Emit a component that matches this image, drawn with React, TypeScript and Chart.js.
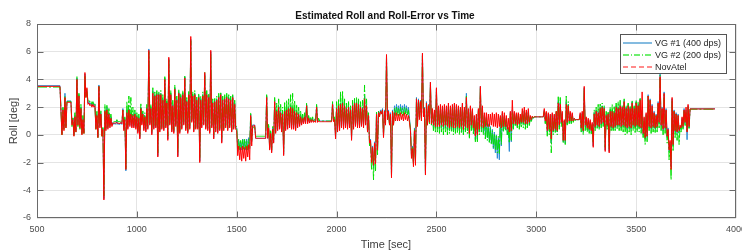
import React, { useEffect, useRef } from 'react';
import { Chart, registerables } from 'chart.js';

Chart.register(...registerables);

// ---- data ----
// Each series is sampled every 5 s from t = 500 s: pairs of (local high, local low) per 10 s.
const startTime = 500; // sec, time of first sample
const sampleStep = 5; // sec between samples

const vg1 = [
  // 500
  3.55, 3.55, 3.55, 3.55, 3.55, 3.55, 3.55, 3.55, 3.55, 3.55, 3.55, 3.55, 3.55, 3.55, 3.55, 3.55, 3.55, 3.55, 3.55, 3.55,
  // 600
  3.55, 3.55, 3.55, 3.55, 1.8, 0.1, 1.9, 0.5, 3.0, 0.6, 2.45, 2.45, 2.45, 2.45, 2.45, 0.8, 1.2, 0.0, 1.4, 0.3,
  // 700
  4.1, 0.8, 2.9, 0.6, 2.0, 0.1, 1.2, 0.2, 4.4, 2.8, 3.2, 2.3, 2.4, 2.2, 2.3, 2.1, 2.3, 2.1, 2.2, 0.5,
  // 800
  1.5, -0.1, 3.6, 0.6, 1.6, 0.0, 0.5, -4.6, 1.8, 0.4, 2.0, 0.5, 1.6, 0.6, 1.3, 0.7, 0.9, 0.75, 0.85, 0.75,
  // 900
  1.0, 0.75, 0.8, 0.75, 0.9, 0.75, 1.9, 0.4, 1.2, -2.6, 1.8, 0.5, 1.9, 0.7, 1.6, 0.6, 1.5, 0.6, 1.6, 0.5,
  // 1000
  1.4, 0.2, 1.3, -0.2, 2.0, 0.8, 1.6, 0.4, 1.4, 0.3, 2.0, 0.5, 6.2, 0.8, 2.0, 0.1, 3.2, 0.5, 2.9, 0.6,
  // 1100
  3.0, -1.5, 3.0, 0.3, 3.0, 0.5, 2.6, 0.4, 4.1, 0.6, 2.4, -0.3, 5.5, 0.8, 3.0, 0.3, 2.2, 0.2, 3.4, 0.7,
  // 1200
  2.6, -1.5, 3.1, 0.2, 2.8, 0.5, 3.0, 0.8, 4.2, 0.4, 2.5, 0.2, 3.0, 0.5, 6.9, 1.0, 2.9, 0.3, 3.0, 0.5,
  // 1300
  2.6, 0.5, 2.8, -1.9, 2.6, 0.6, 2.9, 0.8, 4.4, 0.5, 3.0, 0.4, 2.8, 0.2, 6.0, 0.6, 2.4, -0.2, 2.5, 0.3,
  // 1400
  2.6, 0.2, 2.8, 0.4, 3.0, -0.5, 2.6, 0.4, 2.7, 0.6, 2.8, 0.4, 2.7, 0.6, 2.6, 0.3, 2.8, 0.5, 2.3, 0.5,
  // 1500
  0.5, -0.9, -0.4, -1.0, -0.5, -1.1, -0.3, -1.0, -0.4, -1.1, -0.3, -1.0, -0.2, -1.0, 1.5, -0.5, 0.72, 0.72, 0.7, -0.25,
  // 1600
  -0.25, -0.25, -0.25, -0.25, -0.25, -0.25, -0.25, -0.25, -0.25, -0.25, 2.8, -0.25, 0.6, -1.0, 0.2, -1.2, 0.5, -0.5, 2.5, 0.2,
  // 1700
  1.8, 0.4, 2.1, 0.5, 1.7, 0.3, 1.6, -1.4, 1.8, 0.4, 1.9, 0.5, 2.0, 0.6, 2.1, 0.5, 2.0, 0.5, 1.8, 0.4,
  // 1800
  1.7, 0.6, 1.6, 0.7, 1.4, 0.8, 1.3, 0.9, 1.4, 0.9, 2.2, 0.9, 1.3, 0.9, 1.2, 0.95, 1.2, 0.95, 1.1, 0.95,
  // 1900
  2.1, 0.95, 1.1, 1.0, 1.0, 1.0, 1.0, 1.0, 1.0, 1.0, 1.0, 1.0, 1.0, 1.0, 1.0, 1.0, 2.3, 1.0, 1.2, -0.2,
  // 2000
  2.0, 0.3, 2.2, 0.4, 2.3, 0.6, 2.4, 0.5, 2.2, 0.6, 2.0, 0.5, 2.1, 0.6, 1.9, -0.3, 2.2, 0.5, 2.4, 0.7,
  // 2100
  2.4, 0.6, 2.3, 0.6, 2.1, 0.7, 2.0, 0.6, 2.8, 0.8, 2.2, 0.3, 1.5, -0.5, -0.3, -1.8, -0.8, -2.4, -0.5, -2.0,
  // 2200
  1.6, -1.0, 1.7, 1.4, 1.8, 1.6, 1.9, -0.1, 1.8, 0.8, 5.7, 1.2, 1.8, 0.8, 1.6, -3.0, 1.8, 0.8, 2.1, 1.5,
  // 2300
  2.2, 1.6, 2.1, 1.5, 2.2, 1.6, 2.1, 1.5, 2.2, 1.6, 2.1, 1.5, 2.0, 1.2, 0.5, -1.5, -0.8, -2.0, 0.5, -1.9,
  // 2400
  2.7, 0.8, 2.6, 1.3, 2.5, 1.2, 5.8, 1.5, 2.0, -2.8, 2.4, 0.8, 2.2, 1.0, 3.8, 0.9, 1.8, 0.6, 1.6, 0.5,
  // 2500
  3.3, 0.5, 1.9, 0.4, 2.0, 0.5, 1.9, 0.4, 2.0, 0.5, 1.9, 0.4, 2.1, 0.3, 1.9, 0.4, 2.0, 0.3, 2.2, 0.3,
  // 2600
  2.1, 0.4, 2.0, 0.3, 1.9, 0.4, 2.2, 0.2, 1.8, 0.4, 3.0, 0.3, 1.8, -0.1, 2.0, 0.5, 1.8, 0.3, 1.2, -0.35,
  // 2700
  1.4, -0.3, 1.8, 0.2, 3.5, 0.4, 2.0, 0.2, 1.4, -0.1, 1.3, -0.2, 0.8, -0.5, 0.6, -0.6, 0.4, -1.0, 0.2, -1.3,
  // 2800
  0.0, -1.7, -0.2, -1.8, 1.3, -0.8, 1.6, 0.3, 1.4, 0.4, 1.2, 0.0, 0.5, -1.2, 1.6, -0.5, 1.8, 0.5, 1.6, 0.7,
  // 2900
  1.5, 0.6, 1.4, 0.7, 1.2, 0.8, 1.5, 0.8, 1.7, 0.7, 1.6, 0.7, 1.7, 0.8, 1.3, 1.0, 1.3, 1.2, 1.3, 1.3,
  // 3000
  1.3, 1.3, 1.3, 1.3, 1.3, 1.3, 1.3, 1.3, 1.8, 0.9, 1.6, 0.2, 1.5, 0.3, 1.4, -0.6, 1.5, 0.2, 1.4, 0.3,
  // 3100
  1.6, 0.2, 2.5, 0.6, 2.4, 0.8, 1.6, -0.5, 1.0, -0.6, 2.4, 0.8, 2.2, 0.9, 1.6, 0.9, 1.5, 1.0, 1.2, 1.1,
  // 3200
  1.1, 1.1, 1.1, 1.1, 1.5, 0.4, 1.6, 0.2, 3.4, 0.6, 1.2, 0.4, 1.1, 0.3, 1.0, 0.2, 0.8, -0.8, 1.6, 0.5,
  // 3300
  1.8, 0.6, 1.7, 0.5, 2.0, 0.7, 2.1, 0.8, 2.0, -1.1, 1.5, 0.6, 1.6, -1.2, 1.8, 0.5, 1.8, 0.4, 1.7, 0.5,
  // 3400
  2.1, 0.6, 2.0, 0.6, 2.2, 0.5, 2.0, 0.6, 2.5, 0.5, 2.0, 0.4, 2.2, 0.5, 2.0, 0.4, 2.4, 0.6, 2.0, 0.5,
  // 3500
  2.4, 0.6, 2.2, 0.5, 2.6, 0.4, 1.8, 0.0, 1.2, -0.3, 1.5, -0.2, 2.9, 0.5, 2.6, 0.4, 2.2, 0.5, 1.7, 0.4,
  // 3600
  1.5, 0.5, 2.4, 0.8, 4.4, 0.6, 2.0, 0.3, 3.1, 0.4, 1.9, -0.2, 0.5, -1.2, -0.5, -2.3, 2.6, -0.8, 1.8, 0.2,
  // 3700
  1.6, 0.1, 1.5, 0.2, 0.6, 0.4, 1.2, 0.5, 1.9, 0.8, 1.8, -0.35, 2.1, 0.5, 1.88, 1.88, 1.88, 1.88, 1.88, 1.88,
  // 3800
  1.88, 1.88, 1.88, 1.88, 1.88, 1.88, 1.88, 1.88, 1.88, 1.88, 1.88, 1.88, 1.88, 1.88, 1.88, 1.88, 1.88, 1.88, 1.88, 1.88,
];

const vg2 = [
  // 500
  3.45, 3.45, 3.45, 3.45, 3.45, 3.45, 3.45, 3.45, 3.45, 3.45, 3.45, 3.45, 3.45, 3.45, 3.45, 3.45, 3.45, 3.45, 3.45, 3.45,
  // 600
  3.45, 3.45, 3.45, 3.45, 1.9, 0.0, 2.0, 0.4, 2.8, 0.5, 2.4, 2.4, 2.4, 2.4, 2.4, 0.6, 1.3, -0.1, 1.6, 0.2,
  // 700
  4.2, 0.6, 3.0, 0.4, 2.2, 0.0, 1.4, 0.1, 4.3, 2.7, 3.3, 2.4, 2.5, 2.3, 2.4, 2.2, 2.4, 2.2, 2.3, 0.4,
  // 800
  1.7, -0.2, 3.5, 0.7, 1.8, -0.1, 0.6, -4.4, 2.2, 0.5, 2.2, 0.6, 1.9, 0.7, 1.5, 0.8, 0.95, 0.95, 0.95, 0.95,
  // 900
  1.1, 0.95, 0.95, 0.95, 1.0, 0.9, 1.8, 0.5, 1.3, -2.5, 2.4, 0.7, 2.8, 0.9, 2.7, 0.8, 2.0, 0.7, 1.8, 0.6,
  // 1000
  1.6, 0.3, 1.5, -0.1, 2.3, 0.9, 1.8, 0.5, 1.6, 0.4, 2.2, 0.6, 6.0, 0.9, 2.2, 0.2, 3.4, 0.6, 3.1, 0.7,
  // 1100
  3.2, -1.3, 3.1, 0.4, 3.2, 0.6, 2.9, 0.5, 4.2, 0.7, 2.6, -0.1, 5.4, 0.9, 3.2, 0.4, 2.5, 0.3, 3.6, 0.8,
  // 1200
  2.8, -1.3, 3.3, 0.3, 3.0, 0.6, 3.2, 0.9, 4.3, 0.5, 2.7, 0.3, 3.2, 0.6, 6.8, 1.1, 3.1, 0.4, 3.2, 0.6,
  // 1300
  2.8, 0.6, 3.0, -1.7, 2.8, 0.7, 3.1, 0.9, 4.5, 0.6, 3.2, 0.5, 3.0, 0.3, 5.8, 0.7, 2.6, 0.0, 2.7, 0.4,
  // 1400
  2.8, 0.3, 3.0, 0.5, 3.1, -0.3, 2.8, 0.5, 2.9, 0.7, 3.0, 0.5, 2.9, 0.7, 2.8, 0.4, 2.9, 0.6, 2.5, 0.6,
  // 1500
  0.6, -1.0, -0.3, -1.1, -0.4, -1.0, -0.35, -1.1, -0.3, -1.0, -0.4, -1.1, -0.3, -0.9, 1.6, -0.4, 0.55, 0.55, 0.6, -0.1,
  // 1600
  -0.1, -0.1, -0.1, -0.1, -0.1, -0.1, -0.1, -0.1, -0.1, -0.1, 2.9, -0.1, 0.8, -0.9, 0.3, -1.1, 0.6, -0.4, 2.7, 0.4,
  // 1700
  2.3, 0.6, 2.6, 0.7, 2.2, 0.6, 2.0, -1.2, 2.4, 0.6, 2.5, 0.7, 2.6, 0.8, 2.9, 0.7, 3.0, 0.7, 2.5, 0.6,
  // 1800
  2.2, 0.8, 2.0, 0.8, 1.7, 0.9, 1.5, 1.0, 1.6, 1.0, 2.3, 1.0, 1.4, 1.0, 1.3, 1.0, 1.3, 1.0, 1.2, 1.0,
  // 1900
  2.2, 1.0, 1.2, 1.0, 1.0, 1.0, 1.0, 1.0, 1.0, 1.0, 1.0, 1.0, 1.0, 1.0, 1.0, 1.0, 2.4, 1.0, 1.3, 0.0,
  // 2000
  2.4, 0.5, 2.6, 0.6, 3.1, 0.8, 3.2, 0.7, 2.6, 0.8, 2.3, 0.6, 2.4, 0.7, 2.1, -0.1, 2.5, 0.6, 2.7, 0.8,
  // 2100
  2.7, 0.7, 2.6, 0.7, 2.4, 0.8, 2.5, 0.7, 3.6, 0.9, 2.6, 0.2, 1.6, -0.8, -0.5, -2.5, -1.2, -3.25, -0.8, -2.6,
  // 2200
  1.7, -1.5, 1.7, 1.4, 1.7, 1.5, 1.8, 0.0, 1.7, 0.8, 5.6, 1.1, 1.7, 0.7, 1.5, -2.9, 1.7, 0.7, 1.9, 1.4,
  // 2300
  2.0, 1.4, 1.9, 1.4, 2.0, 1.5, 1.9, 1.4, 2.0, 1.5, 1.9, 1.4, 1.8, 1.0, 0.4, -1.4, -0.9, -2.1, 0.4, -2.0,
  // 2400
  2.6, 0.7, 2.5, 1.2, 2.4, 1.1, 5.7, 1.4, 1.9, -2.6, 2.3, 0.7, 2.1, 0.8, 3.6, 0.7, 1.7, 0.3, 1.5, 0.2,
  // 2500
  3.1, 0.2, 1.8, 0.1, 1.9, 0.2, 1.8, 0.0, 1.9, 0.2, 1.8, 0.0, 2.0, 0.1, 1.8, 0.2, 1.9, 0.0, 2.1, 0.1,
  // 2600
  2.0, 0.1, 1.9, 0.0, 1.8, 0.1, 2.1, 0.0, 1.7, 0.2, 2.8, 0.1, 1.7, -0.3, 1.9, 0.3, 1.7, 0.0, 1.1, -0.5,
  // 2700
  1.3, -0.5, 1.7, 0.0, 3.4, 0.2, 1.9, 0.0, 1.3, -0.3, 1.2, -0.4, 0.7, -0.6, 0.5, -0.7, 0.3, -0.9, 0.1, -1.1,
  // 2800
  0.0, -1.3, -0.1, -1.4, 1.2, -0.7, 1.5, 0.2, 1.3, 0.3, 1.1, 0.0, 0.6, -0.6, 1.5, -0.4, 1.6, 0.4, 1.5, 0.6,
  // 2900
  1.4, 0.5, 1.5, 0.4, 1.3, 0.5, 1.7, 0.5, 1.8, 0.4, 1.6, 0.5, 1.6, 0.6, 1.3, 0.9, 1.3, 1.2, 1.3, 1.3,
  // 3000
  1.3, 1.3, 1.3, 1.3, 1.3, 1.3, 1.3, 1.3, 1.7, 0.8, 1.6, -0.1, 1.4, 0.0, 1.3, -1.3, 1.4, 0.0, 1.3, 0.1,
  // 3100
  1.7, 0.0, 2.75, 0.4, 2.7, 0.6, 1.5, -0.6, 1.0, -0.7, 2.8, 0.7, 2.4, 0.8, 1.5, 0.8, 1.4, 0.9, 1.2, 1.0,
  // 3200
  1.1, 1.1, 1.1, 1.1, 1.4, 0.2, 1.5, 0.0, 3.3, 0.3, 1.2, 0.2, 1.0, 0.1, 0.9, 0.0, 0.7, -0.6, 1.8, 0.3,
  // 3300
  2.0, 0.4, 2.2, 0.4, 2.3, 0.5, 2.3, 0.6, 2.1, -0.9, 1.7, 0.4, 1.7, -1.0, 2.0, 0.3, 2.2, 0.3, 2.1, 0.3,
  // 3400
  2.3, 0.4, 2.4, 0.3, 2.5, 0.3, 2.1, 0.2, 2.6, 0.0, 2.1, 0.1, 2.3, 0.2, 2.1, 0.0, 2.5, 0.3, 2.1, 0.1,
  // 3500
  2.5, 0.2, 2.4, 0.2, 2.7, 0.1, 1.7, -0.2, 1.0, -0.7, 1.4, -0.5, 2.8, 0.3, 2.5, 0.1, 2.0, 0.2, 1.6, 0.1,
  // 3600
  1.4, 0.2, 2.3, 0.5, 4.3, 0.3, 1.9, 0.0, 2.9, 0.1, 1.8, -0.6, 0.4, -1.8, -0.7, -3.25, 2.5, -1.2, 1.7, -0.2,
  // 3700
  1.5, -0.4, 1.4, -0.7, 0.6, 0.2, 1.1, 0.4, 1.8, 0.6, 1.7, 0.2, 2.0, 0.4, 1.85, 1.85, 1.85, 1.85, 1.85, 1.85,
  // 3800
  1.85, 1.85, 1.85, 1.85, 1.85, 1.85, 1.85, 1.85, 1.85, 1.85, 1.85, 1.85, 1.85, 1.85, 1.85, 1.85, 1.85, 1.85, 1.85, 1.85,
];

const novatel = [
  // 500
  3.5, 3.5, 3.5, 3.5, 3.5, 3.5, 3.5, 3.5, 3.5, 3.5, 3.5, 3.5, 3.5, 3.5, 3.5, 3.5, 3.5, 3.5, 3.5, 3.5,
  // 600
  3.5, 3.5, 3.5, 3.5, 1.7, 0.0, 1.8, 0.3, 2.7, 0.5, 2.35, 2.35, 2.35, 2.35, 2.35, 0.7, 1.1, -0.1, 1.3, 0.2,
  // 700
  4.0, 0.7, 2.8, 0.5, 1.9, 0.0, 1.1, 0.1, 4.5, 2.7, 3.4, 2.2, 2.3, 2.1, 2.2, 2.0, 2.2, 2.0, 2.1, 0.4,
  // 800
  1.4, -0.2, 3.5, 0.5, 1.5, -0.1, 0.4, -4.7, 1.7, 0.3, 1.8, 0.4, 1.5, 0.5, 1.2, 0.6, 0.85, 0.85, 0.85, 0.85,
  // 900
  0.9, 0.8, 0.85, 0.8, 0.9, 0.8, 1.8, 0.3, 1.1, -2.5, 1.6, 0.4, 1.8, 0.6, 1.5, 0.5, 1.4, 0.5, 1.5, 0.4,
  // 1000
  1.3, 0.1, 1.2, -0.3, 1.9, 0.7, 1.5, 0.3, 1.3, 0.2, 1.9, 0.4, 6.1, 0.7, 1.9, 0.0, 3.0, 0.4, 2.8, 0.5,
  // 1100
  2.9, -1.6, 2.9, 0.2, 2.9, 0.4, 2.5, 0.3, 4.0, 0.5, 2.3, -0.4, 5.6, 0.7, 2.9, 0.2, 2.1, 0.1, 3.3, 0.6,
  // 1200
  2.5, -1.6, 3.0, 0.1, 2.7, 0.4, 2.9, 0.7, 4.1, 0.3, 2.4, 0.1, 2.9, 0.4, 7.1, 0.9, 2.8, 0.2, 2.9, 0.4,
  // 1300
  2.5, 0.4, 2.7, -2.0, 2.5, 0.5, 2.8, 0.7, 4.5, 0.4, 2.9, 0.3, 2.7, 0.1, 6.1, 0.5, 2.3, -0.3, 2.4, 0.2,
  // 1400
  2.5, 0.1, 2.7, 0.3, 2.9, -0.6, 2.5, 0.3, 2.6, 0.5, 2.7, 0.3, 2.6, 0.5, 2.5, 0.2, 2.7, 0.4, 2.2, 0.4,
  // 1500
  0.3, -1.5, -0.8, -1.8, -0.9, -1.9, -0.8, -1.7, -0.9, -1.9, -0.8, -1.6, -0.7, -1.8, 1.4, -0.8, 0.65, 0.65, 0.7, -0.25,
  // 1600
  -0.25, -0.25, -0.25, -0.25, -0.25, -0.25, -0.25, -0.25, -0.25, -0.25, 2.7, -0.25, 0.5, -1.1, 0.1, -1.3, 0.4, -0.6, 2.4, 0.1,
  // 1700
  1.7, 0.3, 2.0, 0.4, 1.6, 0.2, 1.5, -1.5, 1.7, 0.3, 1.8, 0.4, 1.9, 0.5, 2.0, 0.4, 1.9, 0.4, 1.7, 0.3,
  // 1800
  1.6, 0.5, 1.5, 0.6, 1.3, 0.7, 1.2, 0.8, 1.3, 0.8, 2.1, 0.8, 1.2, 0.85, 1.1, 0.9, 1.1, 0.9, 1.0, 0.9,
  // 1900
  2.0, 0.9, 1.0, 0.95, 0.95, 0.95, 0.95, 0.95, 0.95, 0.95, 0.95, 0.95, 0.95, 0.95, 0.95, 0.95, 2.2, 0.95, 1.1, -0.3,
  // 2000
  1.9, 0.2, 2.1, 0.3, 2.2, 0.5, 2.3, 0.4, 2.1, 0.5, 1.9, 0.4, 2.0, 0.5, 1.8, -0.4, 2.1, 0.4, 2.3, 0.6,
  // 2100
  2.3, 0.5, 2.2, 0.5, 2.0, 0.6, 1.9, 0.5, 2.6, 0.7, 2.1, 0.2, 1.4, -0.6, -0.4, -2.0, -0.9, -2.2, -0.6, -2.1,
  // 2200
  1.5, -1.1, 1.6, 1.3, 1.7, 1.5, 1.8, -0.2, 1.7, 0.7, 5.8, 1.1, 1.7, 0.7, 1.5, -3.1, 1.7, 0.7, 1.6, 1.0,
  // 2300
  1.6, 1.0, 1.5, 1.0, 1.6, 1.1, 1.5, 1.0, 1.6, 1.1, 1.5, 1.0, 1.4, 0.9, 0.3, -1.7, -1.0, -2.3, 0.3, -2.2,
  // 2400
  2.6, 0.6, 2.5, 1.1, 2.4, 1.0, 5.9, 1.3, 1.9, -2.9, 2.3, 0.7, 2.1, 0.9, 3.8, 0.8, 1.9, 0.7, 1.8, 0.6,
  // 2500
  3.4, 0.6, 2.1, 0.6, 2.2, 0.7, 2.1, 0.6, 2.2, 0.7, 2.1, 0.6, 2.3, 0.5, 2.1, 0.6, 2.2, 0.5, 2.3, 0.5,
  // 2600
  2.2, 0.6, 2.1, 0.5, 2.0, 0.6, 2.3, 0.4, 2.0, 0.6, 2.7, 0.5, 1.9, 0.1, 2.1, 0.7, 1.9, 0.5, 1.4, -0.1,
  // 2700
  1.5, 0.0, 1.9, 0.4, 3.5, 0.6, 2.1, 0.5, 1.6, 0.6, 1.6, 0.6, 1.5, 0.6, 1.5, 0.7, 1.6, 0.6, 1.5, 0.6,
  // 2800
  1.6, 0.5, 1.5, 0.6, 1.4, 0.5, 1.7, 0.6, 1.6, 0.6, 1.4, 0.4, 1.2, 0.2, 1.7, 0.3, 2.5, 0.8, 1.7, 0.8,
  // 2900
  1.6, 0.7, 1.6, 0.8, 1.5, 0.9, 1.9, 0.9, 2.0, 0.8, 1.8, 0.8, 1.9, 0.9, 1.4, 1.1, 1.35, 1.25, 1.3, 1.3,
  // 3000
  1.3, 1.3, 1.3, 1.3, 1.3, 1.3, 1.3, 1.3, 1.9, 1.0, 1.7, 0.3, 1.6, 0.4, 1.5, -0.3, 1.6, 0.3, 1.5, 0.4,
  // 3100
  1.7, 0.3, 2.3, 0.7, 2.2, 0.9, 1.7, -0.4, 1.1, -0.4, 2.2, 0.9, 2.1, 1.0, 1.7, 1.0, 1.6, 1.0, 1.2, 1.1,
  // 3200
  1.1, 1.1, 1.1, 1.1, 1.6, 0.5, 1.7, 0.3, 3.5, 0.7, 1.3, 0.5, 1.2, 0.4, 1.1, 0.3, 0.9, -0.9, 1.5, 0.6,
  // 3300
  1.7, 0.7, 1.6, 0.6, 1.9, 0.8, 2.0, 0.9, 1.9, -1.2, 1.4, 0.7, 1.5, -1.3, 1.7, 0.6, 1.7, 0.5, 1.6, 0.6,
  // 3400
  2.0, 0.7, 1.9, 0.7, 2.1, 0.6, 2.0, 0.7, 2.4, 0.6, 1.9, 0.5, 2.1, 0.6, 1.9, 0.5, 2.3, 0.7, 1.9, 0.6,
  // 3500
  2.3, 0.7, 2.1, 0.6, 2.5, 0.5, 3.1, 0.1, 1.3, -0.2, 1.6, -0.1, 2.8, 0.6, 2.5, 0.5, 2.1, 0.6, 1.6, 0.5,
  // 3600
  1.4, 0.6, 2.3, 0.9, 4.2, 0.7, 1.9, 0.4, 3.0, 0.5, 1.8, -0.1, 0.4, -1.1, -0.4, -2.5, 2.7, -0.7, 1.7, 0.3,
  // 3700
  1.5, 0.2, 1.4, 0.3, 0.7, 0.5, 1.3, 0.6, 1.8, 0.9, 2.0, 0.2, 2.2, 0.6, 1.87, 1.87, 1.87, 1.87, 1.87, 1.87,
  // 3800
  1.87, 1.87, 1.87, 1.87, 1.87, 1.87, 1.87, 1.87, 1.87, 1.87, 1.87, 1.87, 1.87, 1.87, 1.87, 1.87, 1.87, 1.87, 1.87, 1.87,
];

const xTickValues = [500, 1000, 1500, 2000, 2500, 3000, 3500, 4000];
const yTickValues = [-6, -4, -2, 0, 2, 4, 6, 8];
const seriesLabels = ['VG #1 (400 dps)', 'VG #2 (200 dps)', 'NovAtel'];
const titleText = 'Estimated Roll and Roll-Error vs Time';
const xAxisTitle = 'Time [sec]';
const yAxisTitle = 'Roll [deg]';

// ---- styles ----
const FONT = "'Liberation Sans', Arial, Helvetica, sans-serif";
const seriesColors = ['#2a8ad4', '#00E000', '#FF0000'];
const legendColors = ['#0072BD', '#00E000', '#FF3030'];
const seriesDashes: number[][] = [[], [10, 2, 2, 2], []];
const legendDashes: number[][] = [[], [6, 2, 1, 2], [5, 3]];

function toPoints(values: number[]) {
  return values.map((v, i) => ({ x: startTime + i * sampleStep, y: v }));
}

const framePlugin = {
  id: 'matlabFrame',
  afterDatasetsDraw(chart: any) {
    const { ctx, chartArea: a, scales } = chart;
    const L = Math.round(a.left) + 0.5;
    const R = Math.round(a.right) - 0.5;
    const T = Math.round(a.top) + 0.5;
    const B = Math.round(a.bottom) - 0.5;
    ctx.save();
    ctx.strokeStyle = '#6a6a6a';
    ctx.lineWidth = 1;
    ctx.setLineDash([]);
    ctx.strokeRect(L, T, R - L, B - T);
    ctx.beginPath();
    xTickValues.forEach((v) => {
      const x = Math.min(R, Math.max(L, Math.round(scales.x.getPixelForValue(v)) + 0.5));
      ctx.moveTo(x, T);
      ctx.lineTo(x, T + 6);
      ctx.moveTo(x, B);
      ctx.lineTo(x, B - 6);
    });
    yTickValues.forEach((v) => {
      const y = Math.min(B, Math.max(T, Math.round(scales.y.getPixelForValue(v)) + 0.5));
      ctx.moveTo(L, y);
      ctx.lineTo(L + 6, y);
      ctx.moveTo(R, y);
      ctx.lineTo(R - 6, y);
    });
    ctx.stroke();
    ctx.restore();
  },
  afterDraw(chart: any) {
    const { ctx } = chart;
    ctx.save();
    // title
    ctx.fillStyle = '#111';
    ctx.font = `bold 10px ${FONT}`;
    ctx.textAlign = 'center';
    ctx.textBaseline = 'alphabetic';
    ctx.fillText(titleText, 385, 18.5);
    // x axis title
    ctx.fillStyle = '#404040';
    ctx.font = `11px ${FONT}`;
    ctx.fillText(xAxisTitle, 386, 247.5);
    // y axis title
    ctx.save();
    ctx.translate(17, 121);
    ctx.rotate(-Math.PI / 2);
    ctx.fillText(yAxisTitle, 0, 0);
    ctx.restore();
    // legend
    const bx = 620.5, by = 34.5, bw = 106, bh = 39;
    ctx.fillStyle = '#ffffff';
    ctx.fillRect(bx, by, bw, bh);
    ctx.strokeStyle = '#555';
    ctx.lineWidth = 1;
    ctx.strokeRect(bx, by, bw, bh);
    ctx.font = `9px ${FONT}`;
    ctx.textAlign = 'left';
    ctx.textBaseline = 'middle';
    seriesLabels.forEach((label, i) => {
      const y = 42.5 + i * 12.2;
      ctx.save();
      ctx.strokeStyle = legendColors[i];
      ctx.globalAlpha = 0.75;
      ctx.lineWidth = 1.3;
      ctx.setLineDash(legendDashes[i]);
      ctx.beginPath();
      ctx.moveTo(623, Math.round(y));
      ctx.lineTo(652, Math.round(y));
      ctx.stroke();
      ctx.restore();
      ctx.fillStyle = '#262626';
      ctx.fillText(label, 655, y + 1);
    });
    ctx.restore();
  },
};

export default function App() {
  const canvasRef = useRef<HTMLCanvasElement | null>(null);

  useEffect(() => {
    document.body.style.margin = '0';
    const canvas = canvasRef.current;
    if (!canvas) return;
    const seriesValues = [vg1, vg2, novatel];
    const chart = new Chart(canvas, {
      type: 'line',
      data: {
        datasets: seriesValues.map((vals, i) => ({
          label: seriesLabels[i],
          data: toPoints(vals),
          borderColor: seriesColors[i],
          borderWidth: 1,
          borderDash: seriesDashes[i],
          pointRadius: 0,
          tension: 0,
          fill: false,
          order: 3 - i,
        })),
      },
      options: {
        responsive: false,
        animation: false,
        devicePixelRatio: 1,
        parsing: false as any,
        layout: { padding: { top: 24, right: 6, left: 0, bottom: 0 } },
        plugins: {
          legend: { display: false },
          tooltip: { enabled: false },
          title: { display: false },
        },
        scales: {
          x: {
            type: 'linear',
            min: 500,
            max: 4000,
            afterBuildTicks: (s: any) => {
              s.ticks = xTickValues.map((v) => ({ value: v }));
            },
            ticks: {
              autoSkip: false,
              maxRotation: 0,
              padding: 6,
              color: '#4d4d4d',
              font: { family: FONT, size: 9 },
              callback: (v: any) => String(v),
            },
            grid: { color: '#e4e4e4', drawTicks: false, lineWidth: 1 },
            border: { display: false },
            afterFit: (s: any) => {
              s.height = 34;
              s.paddingLeft = 0;
              s.paddingRight = 0;
            },
          },
          y: {
            type: 'linear',
            min: -6,
            max: 8,
            afterBuildTicks: (s: any) => {
              s.ticks = yTickValues.map((v) => ({ value: v }));
            },
            ticks: {
              autoSkip: false,
              padding: 6,
              color: '#4d4d4d',
              font: { family: FONT, size: 9 },
              callback: (v: any) => String(v),
            },
            grid: { color: '#e4e4e4', drawTicks: false, lineWidth: 1 },
            border: { display: false },
            afterFit: (s: any) => {
              s.width = 37;
              s.paddingTop = 0;
              s.paddingBottom = 0;
            },
          },
        },
      },
      plugins: [framePlugin],
    });
    return () => chart.destroy();
  }, []);

  return (
    <div style={{ width: 742, height: 252 }}>
      <canvas ref={canvasRef} width={742} height={252} style={{ display: 'block' }} />
    </div>
  );
}
